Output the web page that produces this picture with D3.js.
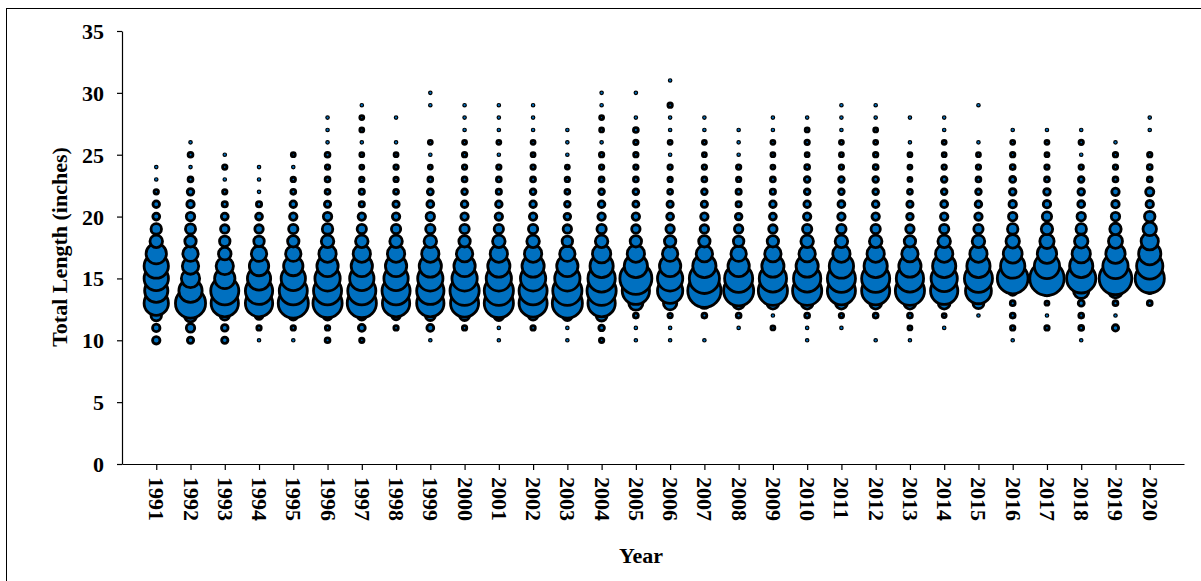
<!DOCTYPE html>
<html><head><meta charset="utf-8">
<script src="https://cdn.jsdelivr.net/npm/d3@7"></script>
<style>
body{margin:0;background:#fff}
svg{display:block}
text{font-family:"Liberation Serif","Times New Roman",serif;font-weight:bold;fill:#000}
</style>
</head><body>
<svg id="chart" width="1201" height="581"></svg>
<script>
// ---- data ----
const years = [1991,1992,1993,1994,1995,1996,1997,1998,1999,2000,2001,2002,2003,2004,2005,
               2006,2007,2008,2009,2010,2011,2012,2013,2014,2015,2016,2017,2018,2019,2020];
const lengths = [10,11,12,13,14,15,16,17,18,19,20,21,22,23,24,25,26,27,28,29,30,31];
const yTicks = [0,5,10,15,20,25,30,35];
// relative number of fish at each total length (inches 10..31), one row per year
const counts = [
  [14,14,28,150,137,150,150,105,40,28,12,11,5,3,3,0,0,0,0,0,0,0],   // 1991
  [10,18,40,230,137,85,68,60,33,26,18,14,11,6,3,6,3,0,0,0,0,0],     // 1992
  [10,11,22,189,200,105,76,40,28,18,12,7,5,3,5,3,0,0,0,0,0,0],      // 1993
  [3,5,15,189,189,137,95,60,28,18,12,7,3,3,3,0,0,0,0,0,0,0],        // 1994
  [3,5,20,230,200,150,95,60,33,22,14,11,6,5,3,4,0,0,0,0,0,0],       // 1995
  [6,5,20,216,200,162,115,76,40,28,18,10,6,6,5,6,3,3,3,0,0,0],      // 1996
  [5,12,20,216,200,150,115,76,40,22,14,7,7,5,4,4,3,4,4,3,0,0],      // 1997
  [0,5,18,189,200,150,115,76,40,22,14,10,6,5,5,4,3,0,3,0,0,0],      // 1998
  [3,12,25,189,189,162,125,76,40,22,18,12,9,6,4,3,4,0,0,3,3,0],     // 1999
  [0,5,25,200,216,162,115,68,33,22,14,11,8,6,5,5,4,3,3,3,0,0],      // 2000
  [3,3,25,216,216,162,125,76,40,22,14,11,7,6,5,3,4,3,3,3,0,0],      // 2001
  [0,5,22,200,200,162,125,76,40,22,14,11,8,6,5,4,4,3,3,3,0,0],      // 2002
  [3,3,25,230,216,162,115,60,28,18,11,8,6,5,4,3,3,3,0,0,0,0],       // 2003
  [5,8,30,189,216,189,137,85,40,22,14,11,8,6,5,5,3,4,4,3,3,0],      // 2004
  [3,3,6,50,189,260,137,76,33,18,14,9,8,6,5,5,5,6,3,0,3,0],         // 2005
  [3,3,5,45,162,162,115,60,33,18,12,10,6,5,5,3,4,3,3,5,0,3],        // 2006
  [3,0,6,28,280,230,137,68,33,18,14,10,8,6,5,4,4,3,3,0,0,0],        // 2007
  [0,3,6,35,230,200,115,60,28,18,11,7,7,5,5,3,3,3,0,0,0,0],         // 2008
  [0,4,3,35,216,189,125,68,33,18,12,11,7,6,4,4,4,3,3,0,0,0],        // 2009
  [3,3,6,35,216,189,125,68,40,22,14,11,8,8,6,4,5,4,3,0,0,0],        // 2010
  [0,3,5,35,200,200,150,76,40,22,14,12,8,8,5,4,4,3,3,3,0,0],        // 2011
  [3,0,6,35,200,200,137,76,40,22,14,11,8,8,6,5,4,4,3,3,0,0],        // 2012
  [3,4,6,35,216,189,125,68,33,18,11,10,6,4,4,4,3,0,3,0,0,0],        // 2013
  [0,3,4,35,189,175,137,76,40,22,14,12,8,8,5,4,4,3,3,0,0,0],        // 2014
  [0,0,3,30,170,200,137,76,40,22,14,11,8,6,5,4,3,0,0,3,0,0],        // 2015
  [3,5,6,6,20,240,150,90,46,28,18,14,11,9,6,5,4,3,0,0,0,0],         // 2016
  [0,5,3,4,25,300,162,95,52,33,22,14,11,6,5,4,4,3,0,0,0,0],         // 2017
  [3,6,6,9,60,216,137,85,46,28,18,12,11,8,5,3,5,3,0,0,0,0],         // 2018
  [0,10,3,6,50,270,162,95,50,33,18,14,14,6,5,5,3,0,0,0,0,0],        // 2019
  [0,0,0,6,8,216,175,125,76,46,28,14,17,6,6,5,0,3,3,0,0,0]          // 2020
];

// ---- build points ----
const points = [];
years.forEach((yr, i) => {
  lengths.forEach((len, j) => {
    const c = counts[i][j];
    if (c > 0) points.push({year: yr, len: len, count: c});
  });
});

const svg = d3.select("#chart");

// outer frame
svg.append("rect").attr("x", 6.5).attr("y", 8.5).attr("width", 1260).attr("height", 640)
  .attr("fill", "none").attr("stroke", "#000").attr("stroke-width", 1);

const x = d3.scaleLinear().domain([1990, 2021]).range([122, 1184]);
const y = d3.scaleLinear().domain([0, 35]).range([464, 31]);
const r = d3.scaleSqrt().domain([0, 300]).range([0, 17.2]);

// bubbles
svg.append("g").selectAll("circle").data(points).join("circle")
  .attr("cx", d => x(d.year))
  .attr("cy", d => y(d.len))
  .attr("r", d => r(d.count))
  .attr("fill", "#0070C0")
  .attr("stroke", "#000")
  .attr("stroke-width", d => d.count <= 3 ? 1.2 : 2.8);

// y axis
const gy = svg.append("g").attr("transform", "translate(122,0)")
  .call(d3.axisLeft(y).tickValues(yTicks).tickSize(5).tickSizeOuter(0).tickPadding(13));
gy.selectAll("text").style("font-size", "22px").attr("dy", "0.34em");

// x axis
const gx = svg.append("g").attr("transform", "translate(0,464)")
  .call(d3.axisBottom(x).tickValues(years).tickSize(6).tickSizeOuter(0).tickFormat(d3.format("d")));
gx.selectAll("text")
  .style("font-size", "22px")
  .attr("transform", "rotate(90)")
  .attr("x", 13).attr("y", 0).attr("dy", "0.34em")
  .attr("text-anchor", "start");

svg.selectAll(".domain, .tick line").attr("stroke", "#000").attr("stroke-width", 1.2);

// axis titles
svg.append("text").attr("transform", "translate(67,247) rotate(-90)")
  .attr("text-anchor", "middle").style("font-size", "22px").text("Total Length (inches)");
svg.append("text").attr("x", 641).attr("y", 563)
  .attr("text-anchor", "middle").style("font-size", "22px").text("Year");
</script>
</body></html>
